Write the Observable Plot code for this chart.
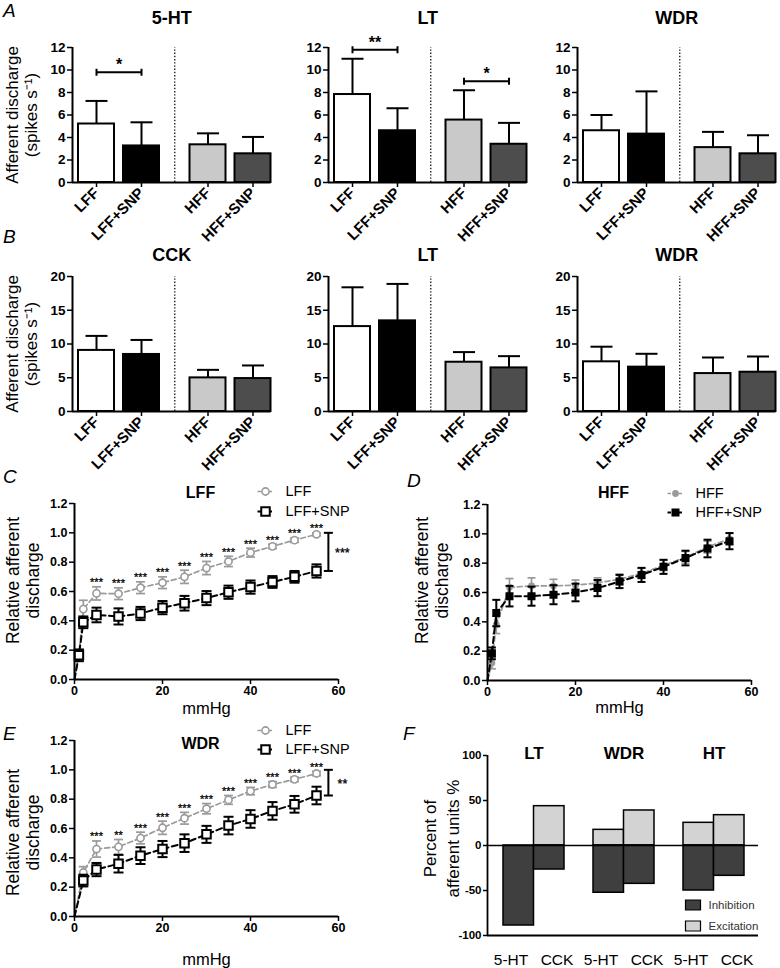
<!DOCTYPE html>
<html>
<head>
<meta charset="utf-8">
<script src="https://cdn.jsdelivr.net/npm/d3@7"></script>
<script src="https://cdn.jsdelivr.net/npm/@observablehq/plot@0.6"></script>
<style>
  body { margin: 0; background: #fff; }
  #fig { position: relative; width: 780px; height: 968px; overflow: hidden; background: #fff;
         font-family: "Liberation Sans", Arial, Helvetica, sans-serif; color: #000; }
  .letter { position: absolute; font-style: italic; font-size: 19px; line-height: 19px; }
</style>
</head>
<body>
<div id="fig"></div>
<script>
// ---------------- DATA ----------------
const barLabels = ["LFF", "LFF+SNP", "HFF", "HFF+SNP"];
// Panel A (spikes s-1): bar mean and top of SD error bar
const a5htMean = [5.2, 3.25, 3.35, 2.55];
const a5htTop  = [7.25, 5.35, 4.37, 4.05];
const aLtMean  = [7.82, 4.6, 5.55, 3.4];
const aLtTop   = [11.0, 6.6, 8.2, 5.3];
const aWdrMean = [4.6, 4.3, 3.1, 2.55];
const aWdrTop  = [6.0, 8.1, 4.5, 4.2];
// Panel B
const bCckMean = [9.05, 8.45, 4.98, 4.88];
const bCckTop  = [11.2, 10.6, 6.17, 6.82];
const bLtMean  = [12.58, 13.43, 7.3, 6.46];
const bLtTop   = [18.4, 18.9, 8.8, 8.2];
const bWdrMean = [7.36, 6.57, 5.62, 5.82];
const bWdrTop  = [9.6, 8.55, 8.0, 8.15];
// significance brackets (index pairs into barLabels)
const sigA5ht = [{from: 0, to: 1, y: 9.8, label: "*"}];
const sigALt  = [{from: 0, to: 1, y: 11.8, label: "**"}, {from: 2, to: 3, y: 9.0, label: "*"}];
const ticksA = [0, 2, 4, 6, 8, 10, 12];
const ticksB = [0, 5, 10, 15, 20];

// Panels C-E: relative afferent discharge vs distension pressure (mmHg)
const pressureCD = [0, 1, 2, 5, 10, 15, 20, 25, 30, 35, 40, 45, 50, 55];
const lffC       = [0, 0.17, 0.48, 0.587, 0.585, 0.626, 0.66, 0.70, 0.76, 0.805, 0.865, 0.908, 0.95, 0.99];
const lffCErr    = [0, 0.03, 0.06, 0.045, 0.04, 0.04, 0.04, 0.045, 0.045, 0.035, 0.03, 0.015, 0.015, 0.01];
const lffSnpC    = [0, 0.165, 0.39, 0.44, 0.43, 0.45, 0.49, 0.52, 0.555, 0.595, 0.63, 0.665, 0.70, 0.74];
const lffSnpCErr = [0, 0.04, 0.04, 0.05, 0.055, 0.045, 0.045, 0.05, 0.048, 0.045, 0.045, 0.04, 0.04, 0.045];
const starsC     = ["", "", "", "***", "***", "***", "***", "***", "***", "***", "***", "***", "***", "***"];
const bracketC   = [{low: 0.74, high: 1.0, label: "***"}];

const hffD       = [0, 0.12, 0.38, 0.635, 0.645, 0.645, 0.65, 0.665, 0.69, 0.73, 0.785, 0.84, 0.91, 0.965];
const hffDErr    = [0, 0.04, 0.06, 0.06, 0.055, 0.045, 0.035, 0.035, 0.035, 0.035, 0.035, 0.04, 0.04, 0.04];
const hffSnpD    = [0, 0.185, 0.46, 0.575, 0.575, 0.585, 0.60, 0.63, 0.675, 0.72, 0.775, 0.835, 0.90, 0.95];
const hffSnpDErr = [0, 0.04, 0.09, 0.07, 0.065, 0.065, 0.06, 0.055, 0.045, 0.048, 0.048, 0.05, 0.06, 0.055];

const pressureE  = [0, 2, 5, 10, 15, 20, 25, 30, 35, 40, 45, 50, 55];
const lffE       = [0, 0.30, 0.46, 0.475, 0.535, 0.605, 0.67, 0.735, 0.795, 0.855, 0.90, 0.935, 0.975];
const lffEErr    = [0, 0.04, 0.055, 0.05, 0.04, 0.045, 0.04, 0.035, 0.03, 0.025, 0.02, 0.015, 0.015];
const lffSnpE    = [0, 0.245, 0.32, 0.36, 0.415, 0.46, 0.50, 0.56, 0.62, 0.665, 0.72, 0.765, 0.825];
const lffSnpEErr = [0, 0.04, 0.045, 0.06, 0.057, 0.055, 0.06, 0.058, 0.06, 0.06, 0.06, 0.057, 0.06];
const starsE     = ["", "", "***", "**", "***", "***", "***", "***", "***", "***", "***", "***", "***"];
const bracketE   = [{low: 0.825, high: 1.0, label: "**"}];
const ticksRel   = [0, 0.2, 0.4, 0.6, 0.8, 1.0, 1.2];
const ticksMmHg  = [0, 20, 40, 60];

// Panel F: percent of afferent units (order: LT 5-HT, LT CCK, WDR 5-HT, WDR CCK, HT 5-HT, HT CCK)
const groupsF     = ["LT", "WDR", "HT"];
const drugsF      = ["5-HT", "CCK"];
const inhibitionF = [-88.9, -26.7, -52.5, -42.6, -50.0, -33.7];
const excitationF = [0, 43.7, 17.4, 38.9, 25.2, 33.7];
const ticksF      = [-100, -50, 0, 50, 100];

// ---------------- HELPERS ----------------
const FONT = '"Liberation Sans", Arial, Helvetica, sans-serif';
const fig = document.getElementById("fig");
const hline = {draw(ctx, size) { const r = Math.sqrt(size / Math.PI); ctx.moveTo(-r, 0); ctx.lineTo(r, 0); }};
const vline = {draw(ctx, size) { const r = Math.sqrt(size / Math.PI); ctx.moveTo(0, -r); ctx.lineTo(0, r); }};
const rectSym = {draw(ctx) { ctx.rect(-7.5, -5, 15, 10); }};
const baseStyle = {background: "none", fontFamily: FONT, color: "#000", overflow: "visible", maxWidth: "none"};
const MID = {textAnchor: "middle", lineAnchor: "middle"};

function place(svg, left, top) {
  svg.style.position = "absolute";
  svg.style.left = left + "px";
  svg.style.top = top + "px";
  fig.appendChild(svg);
}
function letter(t, left, top) {
  const d = document.createElement("div");
  d.className = "letter"; d.textContent = t;
  d.style.left = left + "px"; d.style.top = top + "px";
  fig.appendChild(d);
}

// bar slot layout (px units from y axis)
const barFills = ["#ffffff", "#000000", "#c9c9c9", "#4d4d4d"];
function slot(i) { return 24 + 45 * i + (i >= 2 ? 21.5 : 0); }

function barPanel(o) {
  const rows = barLabels.map((label, i) => ({label, i, c: slot(i), m: o.mean[i], t: o.errTop[i], fill: barFills[i]}));
  const labelAt = new Map(rows.map(d => [d.c, d.label]));
  const divider = (slot(1) + slot(2)) / 2;
  const span = slot(3) + 18;
  const sig = o.sig || [];
  const ends = sig.flatMap(d => [{x: slot(d.from), y: d.y}, {x: slot(d.to), y: d.y}]);
  const marks = [
    Plot.ruleX([divider], {y1: 0, y2: o.yMax, strokeWidth: 1.4, strokeDasharray: "1.4,1.8", stroke: "#222"}),
    Plot.rectY(rows, {x1: d => d.c - 18, x2: d => d.c + 18, y: "m", fill: "fill", stroke: "black", strokeWidth: 2}),
    Plot.ruleX(rows, {x: "c", y1: "m", y2: "t", strokeWidth: 2}),
    Plot.dot(rows, {x: "c", y: "t", symbol: hline, r: 11, stroke: "black", strokeWidth: 2}),
    Plot.ruleY(sig, {x1: d => slot(d.from), x2: d => slot(d.to), y: "y", strokeWidth: 2}),
    Plot.dot(ends, {x: "x", y: "y", symbol: vline, r: 3.5, stroke: "black", strokeWidth: 2}),
    Plot.text(sig, {x: d => (slot(d.from) + slot(d.to)) / 2, y: "y", text: "label", dy: -7, fontSize: 16, fontWeight: "bold"}),
    Plot.ruleX([0], {y1: 0, y2: o.yMax, strokeWidth: 2}),
    Plot.ruleY([0], {x1: 0, x2: span, strokeWidth: 2}),
    Plot.axisY({ticks: o.yTicks, label: null, tickSize: 5, tickPadding: 2, strokeWidth: 1.5, fontSize: 13.5, fontWeight: "bold"}),
    Plot.axisX({ticks: rows.map(d => d.c), tickFormat: d => labelAt.get(d), label: null, tickRotate: -45,
                tickSize: 5, tickPadding: 3, strokeWidth: 1.5, fontSize: 15, fontWeight: "bold"}),
    Plot.text([o.title], {...MID, text: d => d, frameAnchor: "top", dy: o.titleDy, fontSize: 18, fontWeight: "bold"})
  ];
  if (o.ylabel) marks.push(Plot.text([o.ylabel], {...MID, text: d => d, frameAnchor: "left", rotate: -90, dx: -51,
                                                  fontSize: 17, lineHeight: 1.1}));
  const svg = Plot.plot({
    width: o.marginLeft + span + o.marginRight, height: 245,
    marginLeft: o.marginLeft, marginRight: o.marginRight, marginTop: 47, marginBottom: 63,
    x: {domain: [0, span], label: null},
    y: {domain: [0, o.yMax], label: null},
    color: {type: "identity"},
    style: baseStyle,
    marks
  });
  place(svg, o.left, o.top);
}

const GRAY = "#9a9a9a";
function linePanel(o) {
  const ga = o.xs.map((x, i) => ({x, y: o.a[i], e: o.aErr[i], s: o.stars ? o.stars[i] : ""}));
  const gb = o.xs.map((x, i) => ({x, y: o.b[i], e: o.bErr[i]}));
  const pa = ga.filter(d => d.x > 0), pb = gb.filter(d => d.x > 0);
  const xMax = d3.max(ticksMmHg);
  const bx = d3.max(o.xs) + 2.7;
  const br = o.bracket || [];
  const f = o.filled;
  const marks = [
    // series A (gray)
    Plot.line(ga, {x: "x", y: "y", stroke: GRAY, strokeWidth: 1.7, strokeDasharray: "5,3"}),
    Plot.ruleX(pa, {x: "x", y1: d => d.y - d.e, y2: d => d.y + d.e, stroke: GRAY, strokeWidth: 1.7}),
    Plot.dot(pa, {x: "x", y: d => d.y - d.e, symbol: hline, r: f ? 4 : 4.5, stroke: GRAY, strokeWidth: 1.7}),
    Plot.dot(pa, {x: "x", y: d => d.y + d.e, symbol: hline, r: f ? 4 : 4.5, stroke: GRAY, strokeWidth: 1.7}),
    Plot.dot(pa, {x: "x", y: "y", symbol: "circle", r: f ? 2.6 : 3.6, fill: f ? GRAY : "white", stroke: GRAY, strokeWidth: 1.6}),
    // series B (black)
    Plot.line(gb, {x: "x", y: "y", stroke: "black", strokeWidth: 2, strokeDasharray: "6,3.5"}),
    Plot.ruleX(pb, {x: "x", y1: d => d.y - d.e, y2: d => d.y + d.e, stroke: "black", strokeWidth: 2}),
    Plot.dot(pb, {x: "x", y: d => d.y - d.e, symbol: hline, r: f ? 4 : 5, stroke: "black", strokeWidth: 2}),
    Plot.dot(pb, {x: "x", y: d => d.y + d.e, symbol: hline, r: f ? 4 : 5, stroke: "black", strokeWidth: 2}),
    Plot.dot(pb, {x: "x", y: "y", symbol: "square", r: f ? 3.4 : 4.8, fill: f ? "black" : "white", stroke: "black", strokeWidth: 2}),
    // stars above gray points
    Plot.text(pa.filter(d => d.s), {x: "x", y: d => d.y + d.e, text: "s", dy: -4, fontSize: 11, fill: "black", stroke: "black", strokeWidth: 0.3}),
    // overall bracket
    Plot.ruleX(br, {x: bx, y1: "low", y2: "high", strokeWidth: 2}),
    Plot.dot(br, {x: bx, y: "low", symbol: hline, r: 4.5, stroke: "black", strokeWidth: 2}),
    Plot.dot(br, {x: bx, y: "high", symbol: hline, r: 4.5, stroke: "black", strokeWidth: 2}),
    Plot.text(br, {x: bx, y: d => (d.low + d.high) / 2, text: "label", dx: 14, dy: 1, fontSize: 12.5, fill: "black", stroke: "black", strokeWidth: 0.3}),
    // axes
    Plot.ruleX([0], {y1: 0, y2: 1.2, strokeWidth: 2}),
    Plot.ruleY([0], {x1: 0, x2: xMax, strokeWidth: 2}),
    Plot.axisY({ticks: ticksRel, tickFormat: d3.format(".1f"), label: null, tickSize: 5, tickPadding: 2,
                strokeWidth: 1.5, fontSize: 12.5, fontWeight: "bold"}),
    Plot.axisX({ticks: ticksMmHg, tickFormat: d => String(d), label: null, tickSize: 5, tickPadding: 2,
                strokeWidth: 1.5, fontSize: 12.5, fontWeight: "bold"}),
    Plot.text(["mmHg"], {...MID, text: d => d, frameAnchor: "bottom", dy: o.mmDy, fontSize: 16.5}),
    Plot.text([o.title], {...MID, text: d => d, frameAnchor: "top", dx: -6, dy: o.titleDy, fontSize: 16, fontWeight: "bold"}),
    Plot.text([o.ylabel], {...MID, text: d => d, frameAnchor: "left", rotate: -90, dx: o.ylDx, dy: o.ylDy, fontSize: 17.5, lineHeight: 1.18}),
    // legend
    Plot.dot([0], {frameAnchor: "top-left", dx: o.legDx, dy: o.legDy[0], symbol: hline, r: 8, stroke: GRAY, strokeWidth: 1.7, strokeDasharray: "3.5,2"}),
    Plot.dot([0], {frameAnchor: "top-left", dx: o.legDx, dy: o.legDy[0], symbol: "circle", r: f ? 2.6 : 3.6, fill: f ? GRAY : "white", stroke: GRAY, strokeWidth: 1.6}),
    Plot.text([o.names[0]], {text: d => d, frameAnchor: "top-left", dx: o.legDx + 20, dy: o.legDy[0], textAnchor: "start", lineAnchor: "middle", fontSize: 14.5}),
    Plot.dot([0], {frameAnchor: "top-left", dx: o.legDx, dy: o.legDy[1], symbol: hline, r: 8, stroke: "black", strokeWidth: 2, strokeDasharray: "3.5,2"}),
    Plot.dot([0], {frameAnchor: "top-left", dx: o.legDx, dy: o.legDy[1], symbol: "square", r: f ? 3.4 : 4.8, fill: f ? "black" : "white", stroke: "black", strokeWidth: 2}),
    Plot.text([o.names[1]], {text: d => d, frameAnchor: "top-left", dx: o.legDx + 20, dy: o.legDy[1], textAnchor: "start", lineAnchor: "middle", fontSize: 14.5})
  ];
  const svg = Plot.plot({
    width: o.width, height: o.height,
    marginLeft: o.marginLeft, marginRight: o.width - o.marginLeft - 264, marginTop: o.marginTop,
    marginBottom: o.height - o.marginTop - 176,
    x: {domain: [0, xMax], label: null},
    y: {domain: [0, 1.2], label: null},
    style: baseStyle,
    marks
  });
  place(svg, o.left, o.top);
}

function panelF() {
  const step = 90, bw = 30.5, off = 16, span = 271;
  const rows = [];
  groupsF.forEach((g, gi) => drugsF.forEach((drug, di) => rows.push({
    g, gi, di, drug, inh: inhibitionF[gi * 2 + di], exc: excitationF[gi * 2 + di],
    x1: off + gi * step + di * bw
  })));
  const gc = gi => off + gi * step + bw;
  const marks = [
    Plot.rectY(rows.filter(d => d.exc > 0), {x1: "x1", x2: d => d.x1 + bw, y: "exc", fill: "#d3d3d3", stroke: "black", strokeWidth: 1.5}),
    Plot.rectY(rows, {x1: "x1", x2: d => d.x1 + bw, y: "inh", fill: "#3f3f3f", stroke: "black", strokeWidth: 1.5}),
    Plot.ruleY([0], {x1: 0, x2: span, strokeWidth: 1.5}),
    Plot.ruleY([-100], {x1: 0, x2: span, strokeWidth: 1.8}),
    Plot.ruleX([0], {y1: -100, y2: 100, strokeWidth: 1.8}),
    Plot.axisY({ticks: ticksF, tickFormat: d => String(d), label: null, tickSize: 4, tickPadding: 2,
                strokeWidth: 1.5, fontSize: 11.5, fontWeight: "bold"}),
    Plot.text(groupsF, {...MID, x: (d, i) => gc(i), text: d => d, frameAnchor: "top", dy: -2, fontSize: 17, fontWeight: "bold"}),
    Plot.text(rows, {...MID, x: d => gc(d.gi) + (d.di ? 23 : -23), text: "drug", frameAnchor: "bottom", dy: 25, fontSize: 15.5}),
    Plot.text(["Percent of\nafferent units %"], {...MID, text: d => d, frameAnchor: "left", rotate: -90, dx: -47, dy: -7, fontSize: 17, lineHeight: 1.35}),
    Plot.dot([0], {frameAnchor: "top-left", dx: 205.5, dy: 149.5, symbol: rectSym, fill: "#3f3f3f", stroke: "black", strokeWidth: 1.2}),
    Plot.text(["Inhibition"], {text: d => d, frameAnchor: "top-left", dx: 221, dy: 149.5, textAnchor: "start", lineAnchor: "middle", fontSize: 11.5, fill: "#333"}),
    Plot.dot([0], {frameAnchor: "top-left", dx: 205.5, dy: 170.5, symbol: rectSym, fill: "#d3d3d3", stroke: "black", strokeWidth: 1.2}),
    Plot.text(["Excitation"], {text: d => d, frameAnchor: "top-left", dx: 221, dy: 170.5, textAnchor: "start", lineAnchor: "middle", fontSize: 11.5, fill: "#333"})
  ];
  const svg = Plot.plot({
    width: 390, height: 258,
    marginLeft: 97, marginRight: 390 - 97 - span, marginTop: 45, marginBottom: 33,
    x: {domain: [0, span], label: null, axis: null},
    y: {domain: [-100, 100], label: null},
    style: baseStyle,
    marks
  });
  place(svg, 390, 710);
}

// ---------------- PANELS ----------------
const ylabBar = "Afferent discharge\n(spikes s\u207B\u00B9)";
barPanel({mean: a5htMean, errTop: a5htTop, title: "5-HT", yMax: 12, yTicks: ticksA, sig: sigA5ht, ylabel: ylabBar,
          left: 0, top: 0, marginLeft: 72, marginRight: 8, titleDy: -29});
barPanel({mean: aLtMean, errTop: aLtTop, title: "LT", yMax: 12, yTicks: ticksA, sig: sigALt,
          left: 280, top: 0, marginLeft: 48, marginRight: 8, titleDy: -29});
barPanel({mean: aWdrMean, errTop: aWdrTop, title: "WDR", yMax: 12, yTicks: ticksA,
          left: 530, top: 0, marginLeft: 47, marginRight: 3, titleDy: -29});
barPanel({mean: bCckMean, errTop: bCckTop, title: "CCK", yMax: 20, yTicks: ticksB, ylabel: ylabBar,
          left: 0, top: 229, marginLeft: 72, marginRight: 8, titleDy: -21});
barPanel({mean: bLtMean, errTop: bLtTop, title: "LT", yMax: 20, yTicks: ticksB,
          left: 280, top: 229, marginLeft: 48, marginRight: 8, titleDy: -21});
barPanel({mean: bWdrMean, errTop: bWdrTop, title: "WDR", yMax: 20, yTicks: ticksB,
          left: 530, top: 229, marginLeft: 47, marginRight: 3, titleDy: -21});

const ylabRel = "Relative afferent\ndischarge";
linePanel({xs: pressureCD, a: lffC, aErr: lffCErr, b: lffSnpC, bErr: lffSnpCErr, stars: starsC, bracket: bracketC,
           filled: false, names: ["LFF", "LFF+SNP"], title: "LFF", ylabel: ylabRel,
           left: 0, top: 470, width: 390, height: 245, marginLeft: 74, marginTop: 33,
           mmDy: 29, titleDy: -11, ylDx: -52, ylDy: -11, legDx: 191, legDy: [-12, 8]});
linePanel({xs: pressureCD, a: hffD, aErr: hffDErr, b: hffSnpD, bErr: hffSnpDErr,
           filled: true, names: ["HFF", "HFF+SNP"], title: "HFF", ylabel: ylabRel,
           left: 390, top: 470, width: 390, height: 245, marginLeft: 97, marginTop: 34,
           mmDy: 27, titleDy: -12, ylDx: -56, ylDy: -12, legDx: 188, legDy: [-11, 8]});
linePanel({xs: pressureE, a: lffE, aErr: lffEErr, b: lffSnpE, bErr: lffSnpEErr, stars: starsE, bracket: bracketE,
           filled: false, names: ["LFF", "LFF+SNP"], title: "WDR", ylabel: ylabRel,
           left: 0, top: 710, width: 390, height: 258, marginLeft: 74, marginTop: 30,
           mmDy: 43, titleDy: 3, ylDx: -52, ylDy: 4, legDx: 191, legDy: [-10, 9]});
panelF();

letter("A", 3, 1); letter("B", 3, 227); letter("C", 3, 467);
letter("D", 407, 471); letter("E", 3, 724); letter("F", 403, 724);
</script>
</body>
</html>
